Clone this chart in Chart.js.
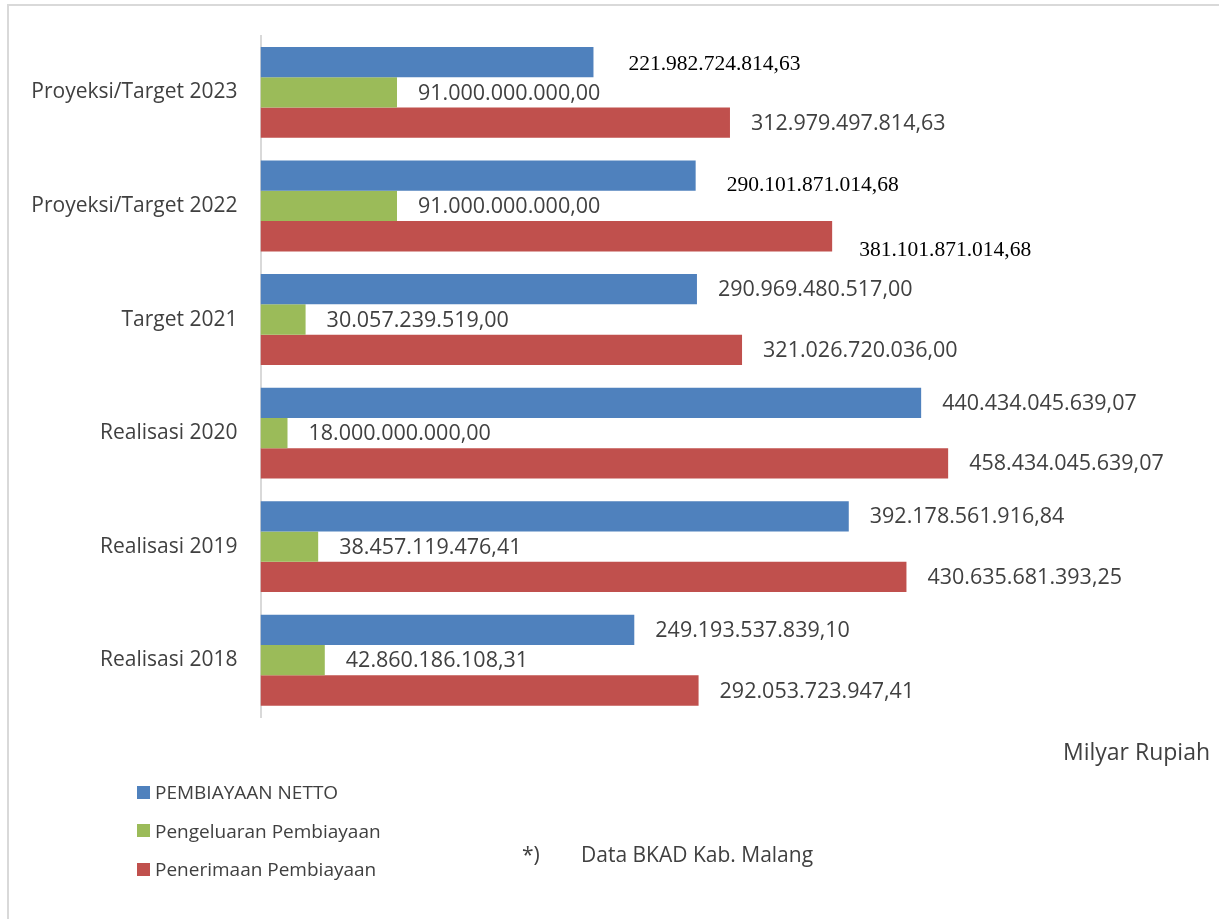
<!DOCTYPE html>
<html>
<head>
<meta charset="utf-8">
<script src="https://cdn.jsdelivr.net/npm/chart.js@4/dist/chart.umd.min.js"></script>
<style>
  html, body { margin: 0; padding: 0; background: #fff; }
  #wrap { position: relative; width: 1219px; height: 919px; overflow: hidden; }
  #frame { position: absolute; left: 7px; top: 4px; width: 1400px; height: 1100px;
           border-left: 2px solid #d9d9d9; border-top: 2px solid #d9d9d9; }
  canvas { position: absolute; left: 0; top: 0; }
  .txt { position: absolute; font-family: "Open Sans", sans-serif; color: #404040; white-space: nowrap; line-height: 1; }
  #legend { position: absolute; left: 137px; top: 773px; }
  .leg-row { display: flex; align-items: center; height: 38.5px; font-family: "Open Sans", sans-serif;
             font-size: 19px; color: #404040; }
  .leg-box { width: 13px; height: 13px; margin-right: 5px; }
</style>
</head>
<body>
<div id="wrap">
  <div id="frame"></div>
  <canvas id="pembiayaanChart" width="1219" height="919"></canvas>
  <div class="txt" style="left:1063px; top:740px; font-size:23px;">Milyar Rupiah</div>
  <div class="txt" style="left:522px; top:844px; font-size:21px;">*)</div>
  <div class="txt" style="left:581px; top:844px; font-size:21px;">Data BKAD Kab. Malang</div>
  <div id="legend"></div>
</div>
<script>
// Kategori tahun (atas ke bawah)
const categories = [
  'Proyeksi/Target 2023',
  'Proyeksi/Target 2022',
  'Target 2021',
  'Realisasi 2020',
  'Realisasi 2019',
  'Realisasi 2018'
];

// Nilai dalam Rupiah
const nettoValues = [221982724814.63, 290101871014.68, 290969480517.00, 440434045639.07, 392178561916.84, 249193537839.10];
const pengeluaranValues = [91000000000.00, 91000000000.00, 30057239519.00, 18000000000.00, 38457119476.41, 42860186108.31];
const penerimaanValues = [312979497814.63, 381101871014.68, 321026720036.00, 458434045639.07, 430635681393.25, 292053723947.41];

const seriesNames = ['PEMBIAYAAN NETTO', 'Pengeluaran Pembiayaan', 'Penerimaan Pembiayaan'];
const seriesColors = ['#4f81bd', '#9bbb59', '#c0504d'];

// format 1234567,89 -> 1.234.567,89
function formatRupiah(v) {
  const parts = v.toFixed(2).split('.');
  return parts[0].replace(/\B(?=(\d{3})+(?!\d))/g, '.') + ',' + parts[1];
}

// beberapa label pakai font serif dan posisi agak bergeser
const labelStyle = {
  '0-0': { serif: true, dx: 35, dy: 2 },
  '0-1': { serif: true, dx: 31, dy: 10 },
  '2-1': { serif: true, dx: 27, dy: 14 }
};

const valueLabels = {
  id: 'valueLabels',
  afterDatasetsDraw(chart) {
    const ctx = chart.ctx;
    ctx.save();
    ctx.textAlign = 'left';
    ctx.textBaseline = 'middle';
    chart.data.datasets.forEach((ds, di) => {
      chart.getDatasetMeta(di).data.forEach((bar, i) => {
        const st = labelStyle[di + '-' + i] || { serif: false, dx: 21, dy: 1 };
        if (st.serif) {
          ctx.font = '21.5px "Liberation Serif", "Times New Roman", serif';
          ctx.fillStyle = '#000';
        } else {
          ctx.font = '21.5px "Open Sans", sans-serif';
          ctx.fillStyle = '#404040';
        }
        ctx.fillText(formatRupiah(ds.data[i]), bar.x + st.dx, bar.y + st.dy);
      });
    });
    ctx.restore();
  }
};

const ctx = document.getElementById('pembiayaanChart').getContext('2d');
const chart = new Chart(ctx, {
  type: 'bar',
  data: {
    labels: categories,
    datasets: [nettoValues, pengeluaranValues, penerimaanValues].map((vals, k) => ({
      label: seriesNames[k],
      data: vals,
      backgroundColor: seriesColors[k],
      borderWidth: 0,
      categoryPercentage: 0.8,
      barPercentage: 1.0
    }))
  },
  options: {
    indexAxis: 'y',
    responsive: false,
    animation: false,
    layout: { padding: { left: 0, top: 31, right: 58.5, bottom: 202 } },
    plugins: {
      legend: { display: false },
      tooltip: { enabled: false }
    },
    scales: {
      x: { display: false, min: 0, max: 600000000000 },
      y: {
        grid: { display: false, drawTicks: false },
        border: { display: true, color: '#d9d9d9', width: 2 },
        ticks: {
          padding: 23,
          color: '#404040',
          font: { family: '"Open Sans", sans-serif', size: 21 }
        },
        afterFit(scale) { scale.width = 260.5; }
      }
    }
  },
  plugins: [valueLabels]
});

// legenda
const legend = document.getElementById('legend');
seriesNames.forEach((name, k) => {
  legend.innerHTML += `<div class="leg-row"><div class="leg-box" style="background:${seriesColors[k]}"></div>${name}</div>`;
});
</script>
</body>
</html>
